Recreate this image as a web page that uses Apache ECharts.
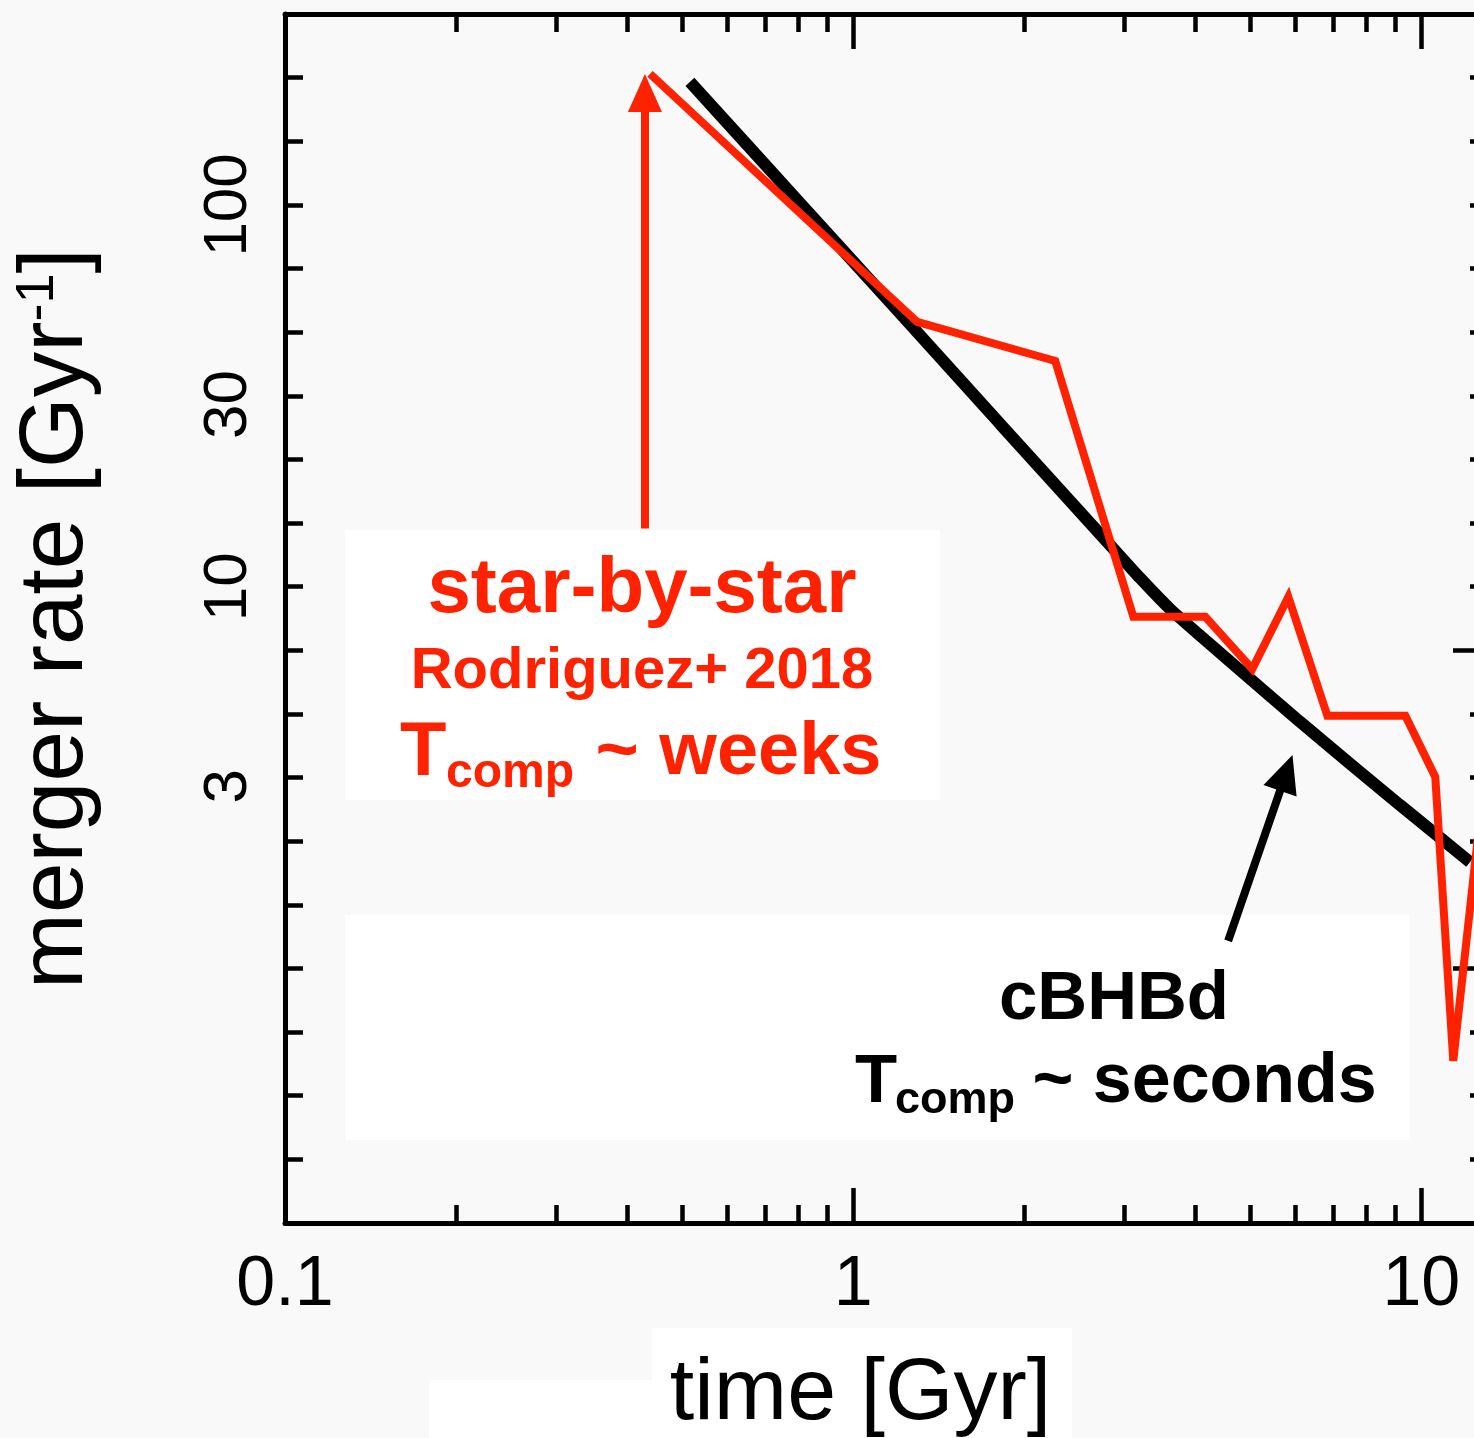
<!DOCTYPE html>
<html><head><meta charset="utf-8">
<script src="https://cdn.jsdelivr.net/npm/echarts@6/dist/echarts.min.js"></script>
<style>html,body{margin:0;padding:0;background:#f9f9f9}#c{width:1474px;height:1438px}</style>
</head><body><div id="c"></div>
<script>
// ---- data ----
const starByStar = [[0.439,220.3],[1.296,49.4],[2.268,39.0],[3.112,8.34],[4.166,8.34],[5.04,6.09],[5.833,9.40],[6.832,4.59],[9.372,4.59],[10.58,3.175],[11.38,0.573],[12.96,3.33]];
const cBHBd = [[0.516,210.0],[0.806,101.2],[1.234,50.3],[1.813,26.7],[2.83,12.87],[3.197,10.54],[3.611,8.74],[4.16,7.26],[4.993,5.74],[6.113,4.43],[7.486,3.44],[9.17,2.68],[12.18,1.90]];
const redArrow = [[0.43,14.2],[0.43,196.5]];
const blackArrow = [[4.57,1.181],[5.784,3.253]];
const xLabelValues = [0.1, 1, 10];
const xMajorTicks = [1, 10];
const xMinorTicks = [0.2,0.3,0.4,0.5,0.6,0.7,0.8,0.9,2,3,4,5,6,7,8,9];
const yLabelValues = [3, 10, 30, 100];
const yTicks = [0.3162,0.4642,0.6813,1,1.4678,2.1544,3.1623,4.6416,6.8129,10,14.678,21.544,31.623,46.416,68.129,100,146.78,215.44];
const yRightMajorTicks = [1, 6.8129];
const xRange = [0.1, 13.1];
const yRange = [0.21544, 316.23];

const RED = '#ff2200';
const FONT = 'Liberation Sans, Arial, Helvetica, sans-serif';
const lineSt = {color:'#000', width:5};
const tickSt = {color:'#000', width:4.5};

function xAx(pos, ticks, len, showLine, labels) {
  return {
    type:'log', logBase:10, min:xRange[0], max:xRange[1], position:pos,
    axisLine:{show:showLine, onZero:false, lineStyle:lineSt},
    axisTick:{show:true, inside:true, length:len, customValues:ticks, lineStyle:tickSt},
    axisLabel: labels ? {show:true, customValues:xLabelValues, fontSize:70, color:'#000', fontFamily:FONT, margin:28} : {show:false},
    splitLine:{show:false}, minorTick:{show:false}, minorSplitLine:{show:false}
  };
}
function yAx(pos, ticks, len, showLine, labels) {
  return {
    type:'log', logBase:10, min:yRange[0], max:yRange[1], position:pos,
    axisLine:{show:showLine, onZero:false, lineStyle:lineSt},
    axisTick:{show:true, inside:true, length:len, customValues:ticks, lineStyle:tickSt},
    axisLabel: labels ? {show:true, customValues:yLabelValues, rotate:90, fontSize:62, color:'#000', fontFamily:FONT, margin:25} : {show:false},
    splitLine:{show:false}, minorTick:{show:false}, minorSplitLine:{show:false}
  };
}

const xAxes = [
  xAx('bottom', xMinorTicks, 18, true, true),
  xAx('bottom', xMajorTicks, 35, false, false),
  xAx('top', xMinorTicks, 18, true, false),
  xAx('top', xMajorTicks, 35, false, false)
];
Object.assign(xAxes[0], {
  name:'time [Gyr]', nameLocation:'middle', nameGap:128,
  nameTextStyle:{fontSize:88, color:'#000', fontFamily:FONT, padding:[0,52,0,0]}
});
const yAxes = [
  yAx('left', yTicks, 18, true, true),
  yAx('right', yTicks, 18, true, false),
  yAx('right', yRightMajorTicks, 35, false, false)
];
Object.assign(yAxes[0], {
  name:'{a|merger rate [Gyr}{b|-1}{a|]}', nameLocation:'middle', nameGap:183, nameRotate:90,
  nameTextStyle:{color:'#000', fontFamily:FONT, fontSize:91,
    rich:{a:{fontSize:91, color:'#000', fontFamily:FONT}, b:{fontSize:54, color:'#000', fontFamily:FONT, verticalAlign:'top'}}}
});

function txt(x, y, text, size, color, align) {
  return {type:'text', z:100, x:x, y:y, style:{text:text, fill:color, fontSize:size, fontWeight:'bold', fontFamily:FONT, align:align||'left', verticalAlign:'middle'}};
}

const option = {
  animation:false,
  backgroundColor:'#f9f9f9',
  grid:{left:285, right:-14, top:14, bottom:215, containLabel:false, outerBoundsMode:'none'},
  xAxis:xAxes,
  yAxis:yAxes,
  graphic:[
    {type:'rect', z:-1, shape:{x:345, y:530, width:595, height:270}, style:{fill:'#fff'}},
    {type:'rect', z:-1, shape:{x:345, y:915, width:1065, height:225}, style:{fill:'#fff'}},
    {type:'rect', z:-1, shape:{x:652, y:1328, width:420, height:110}, style:{fill:'#fff'}},
    {type:'rect', z:-1, shape:{x:429, y:1380, width:643, height:58}, style:{fill:'#fff'}},
    txt(642, 590, 'star-by-star', 78, RED, 'center'),
    txt(642, 672, 'Rodriguez+ 2018', 58, RED, 'center'),
    txt(400, 754, 'T', 76, RED),
    txt(446, 774, 'comp', 48, RED),
    txt(575, 754, ' ~ weeks', 74, RED),
    txt(1114, 1000, 'cBHBd', 69, '#000', 'center'),
    txt(855, 1083, 'T', 69, '#000'),
    txt(895, 1101, 'comp', 45, '#000'),
    txt(1013, 1083, ' ~ seconds', 70, '#000')
  ],
  series:[
    {type:'line', name:'cBHBd', data:cBHBd, xAxisIndex:0, yAxisIndex:0, smooth:0.2, symbol:'none', z:3,
     lineStyle:{color:'#000', width:12, cap:'butt'},
     markLine:{silent:true, symbol:['none','triangle'], symbolSize:[35,38], label:{show:false},
       lineStyle:{color:'#000', width:8, type:'solid'},
       data:[[{coord:blackArrow[0]},{coord:blackArrow[1]}]]}},
    {type:'line', name:'star-by-star', data:starByStar, xAxisIndex:0, yAxisIndex:0, symbol:'none', z:4,
     lineStyle:{color:RED, width:8, join:'miter'},
     markLine:{silent:true, symbol:['none','triangle'], symbolSize:[34,38], label:{show:false},
       lineStyle:{color:RED, width:8, type:'solid'},
       data:[[{coord:redArrow[0]},{coord:redArrow[1]}]]}}
  ]
};
const chart = echarts.init(document.getElementById('c'), null, {renderer:'canvas'});
chart.setOption(option);
</script></body></html>
